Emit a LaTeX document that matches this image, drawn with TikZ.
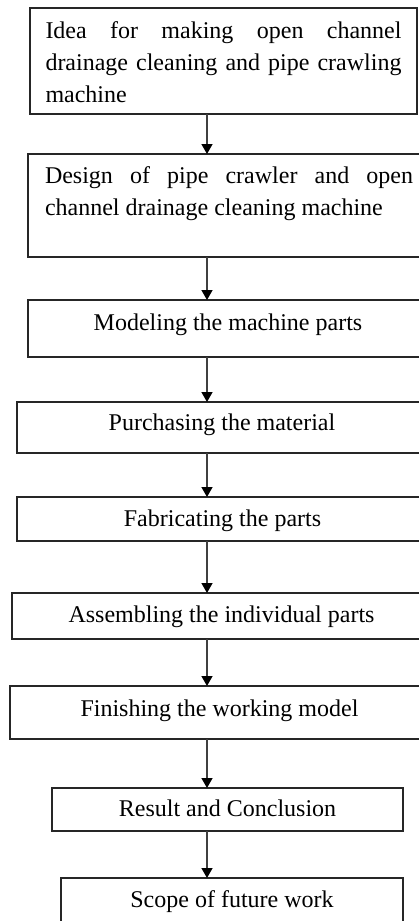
\documentclass[tikz,border=0pt]{standalone}
\usepackage{fontspec}
\setmainfont{Liberation Serif}
\usetikzlibrary{arrows.meta}
\tikzset{
  box/.style={draw=black!85, line width=1.1pt, inner ysep=0pt, inner xsep=0pt,
    outer sep=0pt, anchor=base west, font=\fontsize{24}{32}\selectfont},
  arr/.style={draw=black!75, line width=1.4pt,
    -{Triangle[width=11pt,length=10pt,color=black,fill=black]}}
}
\begin{document}
\begin{tikzpicture}[x=1pt,y=-1pt]
\useasboundingbox (0,0) rectangle (419,921);
\node[box, inner xsep=15.5pt, text height=30pt, text depth=76pt] (b1) at (30,38)
  {\parbox[t]{356pt}{\hyphenpenalty=10000 Idea for making open channel\linebreak drainage cleaning and pipe crawling\linebreak machine}};
\node[box, inner xsep=17pt, text height=29.5pt, text depth=73.5pt] (b2) at (28,183.5)
  {\parbox[t]{368pt}{\hyphenpenalty=10000 Design of pipe crawler and open\linebreak channel drainage cleaning machine}};
\node[box, text height=30pt, text depth=27pt] (b3) at (28,330)
  {\parbox[t]{400pt}{\centering Modeling the machine parts}};
\node[box, text height=28pt, text depth=23pt] (b4) at (17,430)
  {\parbox[t]{410pt}{\centering Purchasing the material}};
\node[box, text height=29.7pt, text depth=14.3pt] (b5) at (17,526.7)
  {\parbox[t]{411pt}{\centering Fabricating the parts}};
\node[box, text height=29.7pt, text depth=16.3pt] (b6) at (12,622.7)
  {\parbox[t]{419pt}{\centering Assembling the individual parts}};
\node[box, text height=30pt, text depth=23pt] (b7) at (10,716)
  {\parbox[t]{419pt}{\centering Finishing the working model}};
\node[box, text height=28.7pt, text depth=14.3pt] (b8) at (52,816.7)
  {\parbox[t]{351pt}{\centering Result and Conclusion}};
\node[box, text height=29pt, text depth=30pt] (b9) at (61,907)
  {\parbox[t]{342pt}{\centering Scope of future work}};
\coordinate (ax) at (207,0);
\draw[arr] (b1.south -| ax) -- (b2.north -| ax);
\draw[arr] (b2.south -| ax) -- (b3.north -| ax);
\draw[arr] (b3.south -| ax) -- (b4.north -| ax);
\draw[arr] (b4.south -| ax) -- (b5.north -| ax);
\draw[arr] (b5.south -| ax) -- (b6.north -| ax);
\draw[arr] (b6.south -| ax) -- (b7.north -| ax);
\draw[arr] (b7.south -| ax) -- (b8.north -| ax);
\draw[arr] (b8.south -| ax) -- (b9.north -| ax);
\end{tikzpicture}
\end{document}
